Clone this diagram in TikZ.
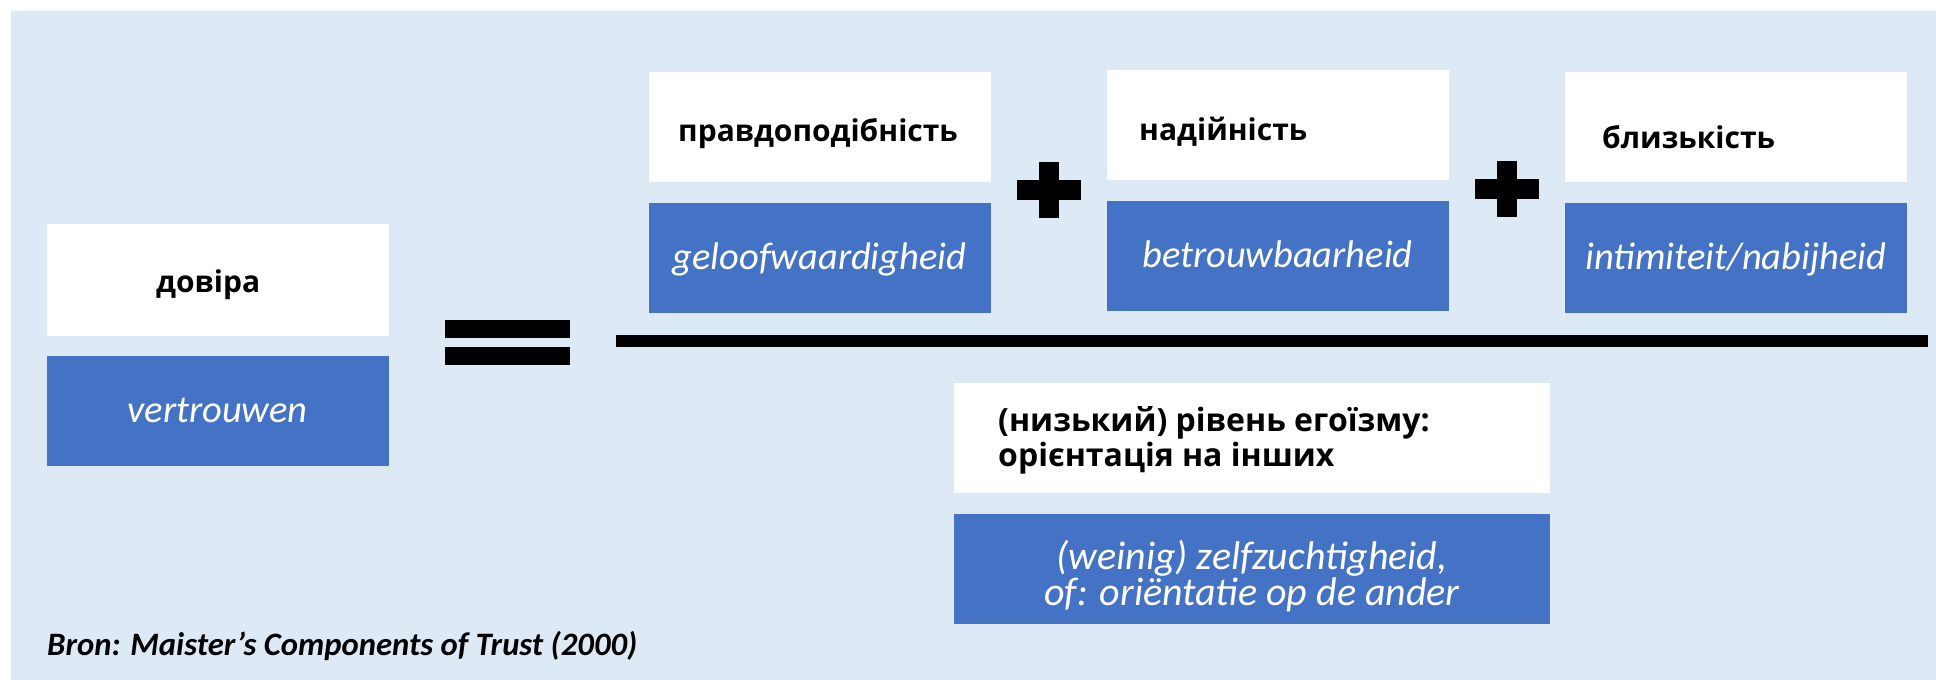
\documentclass[tikz,border=0pt]{standalone}
\usepackage{fontspec}
\setmainfont{Carlito}
\newfontfamily\cyrfont{Open Sans}
\usepackage{tikz}
\definecolor{backcolor}{HTML}{DDEAF5}
\definecolor{boxblue}{HTML}{4472C4}
\tikzset{%
  whitebox/.style={inner sep=0,fill=white,rectangle,minimum width=#1,minimum height=110pt},
  bluebox/.style={inner sep=0,fill=boxblue,rectangle,minimum width=#1,minimum height=110pt,
    text=white,align=center,text height=30pt,text depth=7pt,
    font=\fontsize{38.5pt}{40pt}\selectfont\itshape},
  cyrlabel/.style={anchor=base west,inner sep=0,font=\cyrfont\fontsize{30pt}{32pt}\selectfont\bfseries}
}
\newcommand{\boxwidth}{342pt}
\newcommand{\signbar}{20}

\begin{document}
\begin{tikzpicture}[x=1pt,y=-1pt]

\useasboundingbox (0,0) rectangle (1936,680);
\fill[white] (0,0) rectangle (1936,680);
\fill[backcolor] (11,11) rectangle (1936,680);

% left side: trust
\node (trustWhite) at (217.5,280) [whitebox=\boxwidth,minimum height=112pt] {};
\node (trustBlue) at (217.5,411) [bluebox=\boxwidth] {vertrouwen};
\node (trustLabel) at (156,292) [cyrlabel] {довіра};

% equals sign
\fill (445,320) rectangle (570,338);
\fill (445,347) rectangle (570,365);

% numerator
\node (credWhite) at (819.5,127) [whitebox=\boxwidth] {};
\node (credBlue) at (819.5,257.5) [bluebox=\boxwidth] {geloofwaardigheid};
\node (credLabel) at (678,141) [cyrlabel] {правдоподібність};

\node (relWhite) at (1277.5,125) [whitebox=\boxwidth] {};
\node (relBlue) at (1277.5,256) [bluebox=\boxwidth] {betrouwbaarheid};
\node (relLabel) at (1139,140) [cyrlabel] {надійність};

\node (intWhite) at (1736,127) [whitebox=\boxwidth] {};
\node (intBlue) at (1736,257.5) [bluebox=\boxwidth] {intimiteit/nabijheid};
\node (intLabel) at (1602,148) [cyrlabel] {близькість};

% plus signs
\fill (1049-\signbar/2,162) rectangle (1049+\signbar/2,218);
\fill (1017,190-\signbar/2) rectangle (1081,190+\signbar/2);
\fill (1507-\signbar/2,161) rectangle (1507+\signbar/2,217);
\fill (1475,189-\signbar/2) rectangle (1539,189+\signbar/2);

% fraction line
\draw[line width=12pt] (616,341) -- (1928,341);

% denominator
\node (selfWhite) at (1252,438) [whitebox=596pt] {};
\node (selfBlue) at (1252,569) [bluebox=596pt] {};
\node (selfText) at (1252,576) [inner sep=0,text=white,align=center,font=\fontsize{40pt}{36pt}\selectfont\itshape] {(weinig) zelfzuchtigheid,\\ of: oriëntatie op de ander};
\node (selfLabel) at (998,440) [anchor=west,inner sep=0,align=left,font=\cyrfont\fontsize{32pt}{35pt}\selectfont\bfseries] {(низький) рівень егоїзму:\\ орієнтація на інших};

\node (source) at (47,655) [anchor=base west,inner sep=0,font=\fontsize{32.7pt}{34pt}\selectfont\bfseries\itshape] {Bron: Maister’s Components of Trust (2000)};

\end{tikzpicture}
\end{document}
